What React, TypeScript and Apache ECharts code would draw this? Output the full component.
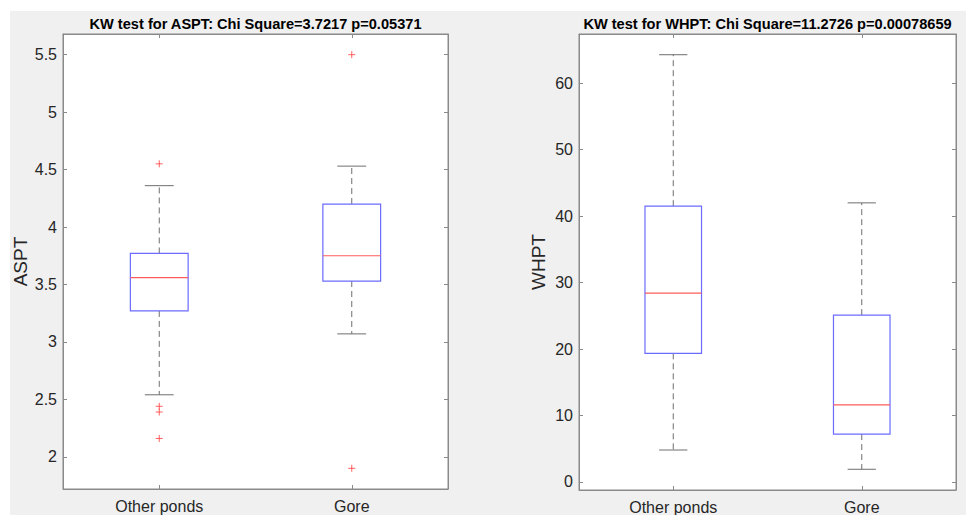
import React, { useEffect, useRef } from "react";
import * as echarts from "echarts";

const categories = ["Other ponds", "Gore"];
// [category index, lower whisker, Q1, median, Q3, upper whisker]
const asptBoxes = [
  [0, 2.54, 3.27, 3.56, 3.77, 4.36],
  [1, 3.07, 3.53, 3.75, 4.2, 4.53],
];
const asptOutliers = [
  [0, 4.55],
  [0, 2.44],
  [0, 2.39],
  [0, 2.16],
  [1, 5.5],
  [1, 1.9],
];
const whptBoxes = [
  [0, 4.8, 19.35, 28.4, 41.5, 64.3],
  [1, 1.9, 7.2, 11.6, 25.1, 42.0],
];
const whptOutliers: number[][] = [];

const leftTitle = "KW test for ASPT: Chi Square=3.7217 p=0.05371";
const rightTitle = "KW test for WHPT: Chi Square=11.2726 p=0.00078659";
const leftYName = "ASPT";
const rightYName = "WHPT";
const leftRange = [1.72, 5.68];
const rightRange = [-1.22, 67.42];
const leftTicks = [2, 2.5, 3, 3.5, 4, 4.5, 5, 5.5];
const rightTicks = [0, 10, 20, 30, 40, 50, 60];

const FONT = "'Liberation Sans', Arial, Helvetica, sans-serif";
const AXIS = "#8a8a8a";
const TEXT = "#262626";

function renderBox(params: any, api: any) {
  const x = api.value(0);
  const band = api.size([1, 0])[0];
  const bw = band * 0.3;
  const cw = band * 0.15;
  const pLo = api.coord([x, api.value(1)]);
  const pQ1 = api.coord([x, api.value(2)]);
  const pMed = api.coord([x, api.value(3)]);
  const pQ3 = api.coord([x, api.value(4)]);
  const pHi = api.coord([x, api.value(5)]);
  const cx = pMed[0];
  const whisk = { stroke: "#6e6e6e", lineWidth: 1, lineDash: [6, 4] };
  const cap = { stroke: "#6e6e6e", lineWidth: 1 };
  return {
    type: "group",
    children: [
      { type: "line", shape: { x1: cx, y1: pQ3[1], x2: cx, y2: pHi[1] }, style: whisk },
      { type: "line", shape: { x1: cx, y1: pQ1[1], x2: cx, y2: pLo[1] }, style: whisk },
      { type: "line", shape: { x1: cx - cw / 2, y1: pHi[1], x2: cx + cw / 2, y2: pHi[1] }, style: cap },
      { type: "line", shape: { x1: cx - cw / 2, y1: pLo[1], x2: cx + cw / 2, y2: pLo[1] }, style: cap },
      {
        type: "rect",
        shape: { x: cx - bw / 2, y: pQ3[1], width: bw, height: pQ1[1] - pQ3[1] },
        style: { fill: "#ffffff", stroke: "#6b6bff", lineWidth: 1.2 },
      },
      { type: "line", shape: { x1: cx - bw / 2, y1: pMed[1], x2: cx + bw / 2, y2: pMed[1] }, style: { stroke: "#ff5c5c", lineWidth: 1.2 } },
    ],
  };
}

export default function App() {
  const ref = useRef<HTMLDivElement>(null);
  useEffect(() => {
    if (!ref.current) return;
    const chart = echarts.init(ref.current, undefined, { renderer: "svg" });
    const grids = [
      { left: 63, top: 34, width: 385, height: 455 },
      { left: 579, top: 34, width: 377, height: 456 },
    ];
    const xAxes: any[] = [];
    const yAxes: any[] = [];
    const ranges = [leftRange, rightRange];
    const ticks = [leftTicks, rightTicks];
    const names = [leftYName, rightYName];
    const nameGaps = [33, 31];
    for (let g = 0; g < 2; g++) {
      for (const pos of ["bottom", "top"]) {
        xAxes.push({
          type: "category",
          gridIndex: g,
          data: categories,
          position: pos,
          boundaryGap: true,
          axisLine: { show: true, onZero: false, lineStyle: { color: AXIS, width: 1 } },
          axisTick: { show: true, inside: true, alignWithLabel: true, length: 4, lineStyle: { color: AXIS } },
          axisLabel: pos === "bottom" ? { color: TEXT, fontSize: 16, fontFamily: FONT, margin: 9 } : { show: false },
          splitLine: { show: false },
        });
      }
      for (const pos of ["left", "right"]) {
        yAxes.push({
          type: "value",
          gridIndex: g,
          position: pos,
          min: ranges[g][0],
          max: ranges[g][1],
          name: pos === "left" ? names[g] : "",
          nameLocation: "middle",
          nameGap: nameGaps[g],
          nameTextStyle: { color: TEXT, fontSize: 19, fontFamily: FONT },
          axisLine: { show: true, onZero: false, lineStyle: { color: AXIS, width: 1 } },
          axisTick: { show: true, inside: true, length: 4, customValues: ticks[g], lineStyle: { color: AXIS } },
          axisLabel:
            pos === "left"
              ? { color: TEXT, fontSize: 16, fontFamily: FONT, margin: 6, customValues: ticks[g] }
              : { show: false, customValues: ticks[g] },
          splitLine: { show: false },
        });
      }
    }
    const plus = "path://M0,5L10,5M5,0L5,10";
    chart.setOption({
      animation: false,
      backgroundColor: "#ffffff",
      graphic: [
        { type: "rect", z: -10, shape: { x: 10, y: 11, width: 956, height: 504 }, style: { fill: "#f0f0f0" }, silent: true },
        {
          type: "text",
          x: 255.5,
          y: 24,
          style: { text: leftTitle, font: `bold 14.6px ${FONT}`, fill: "#000", align: "center", verticalAlign: "middle" },
        },
        {
          type: "text",
          x: 767.5,
          y: 24,
          style: { text: rightTitle, font: `bold 14.6px ${FONT}`, fill: "#000", align: "center", verticalAlign: "middle" },
        },
      ],
      grid: grids.map((g) => ({ ...g, show: true, backgroundColor: "#ffffff", borderColor: AXIS, borderWidth: 1, containLabel: false })),
      xAxis: xAxes,
      yAxis: yAxes,
      series: [
        { type: "custom", xAxisIndex: 0, yAxisIndex: 0, data: asptBoxes, renderItem: renderBox, encode: { x: 0, y: [1, 2, 3, 4, 5] } },
        {
          type: "scatter",
          xAxisIndex: 0,
          yAxisIndex: 0,
          data: asptOutliers,
          symbol: plus,
          symbolSize: 7,
          itemStyle: { color: "transparent", borderColor: "#ff3b3b", borderWidth: 1 },
        },
        { type: "custom", xAxisIndex: 2, yAxisIndex: 2, data: whptBoxes, renderItem: renderBox, encode: { x: 0, y: [1, 2, 3, 4, 5] } },
        {
          type: "scatter",
          xAxisIndex: 2,
          yAxisIndex: 2,
          data: whptOutliers,
          symbol: plus,
          symbolSize: 7,
          itemStyle: { color: "transparent", borderColor: "#ff3b3b", borderWidth: 1 },
        },
      ],
    });
    return () => chart.dispose();
  }, []);
  return <div ref={ref} style={{ position: "fixed", left: 0, top: 0, width: 966, height: 515 }} />;
}
